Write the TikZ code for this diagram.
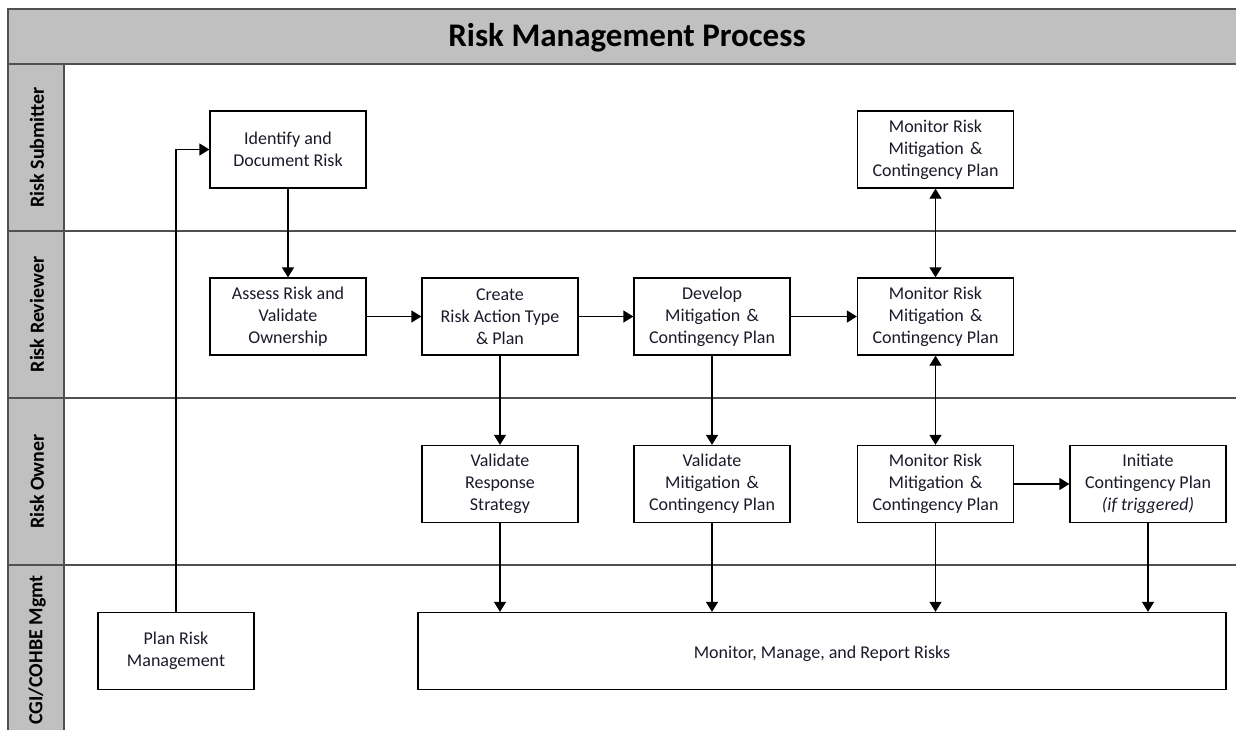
\documentclass[tikz,border=0pt]{standalone}
\usepackage{fontspec}
\setmainfont{Carlito}
\usetikzlibrary{arrows.meta}
\definecolor{bandgray}{HTML}{C0C0C0}
\definecolor{edgegray}{HTML}{505050}
\definecolor{txt}{HTML}{1A1A2A}
\begin{document}
\begin{tikzpicture}[x=1pt,y=-1pt,
 box/.style={draw=black,line width=1.3pt,fill=white,minimum width=156pt,minimum height=77pt,align=center,font=\fontsize{18}{22}\selectfont,text=txt,inner sep=0pt,execute at begin node={\rule{0pt}{18.5pt}}},
 arr/.style={line width=1.3pt,-{Triangle[length=10pt,width=12pt]}},
 darr/.style={line width=1.3pt,{Triangle[length=10pt,width=12pt]}-{Triangle[length=10pt,width=12pt]}},
 lanelabel/.style={font=\bfseries\fontsize{20}{24}\selectfont,rotate=90,inner sep=0pt},
 frame/.style={draw=edgegray,line width=1.6pt}]
\useasboundingbox (0,0) rectangle (1236,729);
\fill[white] (0,0) rectangle (1236,729);
\fill[bandgray] (8,9) rectangle (1240,64);
\fill[bandgray] (8,64) rectangle (64,733);
\draw[frame] (1240,9) -- (8,9) -- (8,733);
\draw[frame] (8,64) -- (1240,64);
\draw[frame] (64,64) -- (64,733);
\draw[frame] (8,231) -- (1240,231);
\draw[frame] (8,398) -- (1240,398);
\draw[frame] (8,565) -- (1240,565);
\node[font=\bfseries\fontsize{33}{38}\selectfont] (title) at (627,38) {Risk Management Process};
\node[lanelabel] (l1) at (37,147.5) {Risk Submitter};
\node[lanelabel] (l2) at (37,314.5) {Risk Reviewer};
\node[lanelabel] (l3) at (37,481.5) {Risk Owner};
\node[lanelabel] (l4) at (37,650) {CGI/COHBE Mgmt};
% boxes
\node[box] (idf) at (288,149.5) {Identify and\\Document Risk};
\node[box] (mtop) at (935.5,149.5) {Monitor Risk\\Mitigation\hspace{0.35em}\&\\Contingency Plan};
\node[box] (ass) at (288,316.5) {Assess Risk and\\Validate\\Ownership};
\node[box] (cre) at (500,316.5) {Create\\Risk Action Type\\\& Plan};
\node[box] (dev) at (712,316.5) {Develop\\Mitigation\hspace{0.35em}\&\\Contingency Plan};
\node[box] (mmid) at (935.5,316.5) {Monitor Risk\\Mitigation\hspace{0.35em}\&\\Contingency Plan};
\node[box] (vr) at (500,484) {Validate\\Response\\Strategy};
\node[box] (vm) at (712,484) {Validate\\Mitigation\hspace{0.35em}\&\\Contingency Plan};
\node[box] (mlow) at (935.5,484) {Monitor Risk\\Mitigation\hspace{0.35em}\&\\Contingency Plan};
\node[box] (ini) at (1148,484) {Initiate\\Contingency Plan\\\textit{(if triggered)}};
\node[box] (plan) at (176,651) {Plan Risk\\Management};
\node[box,minimum width=808pt] (mon) at (822,651) {Monitor, Manage, and Report Risks};
% connectors
\draw[arr] (plan.north) |- (idf.west);
\draw[arr] (idf.south) -- (ass.north);
\draw[arr] (ass.east) -- (cre.west);
\draw[arr] (cre.east) -- (dev.west);
\draw[arr] (dev.east) -- (mmid.west);
\draw[darr] (mtop.south) -- (mmid.north);
\draw[darr] (mmid.south) -- (mlow.north);
\draw[arr] (cre.south) -- (vr.north);
\draw[arr] (dev.south) -- (vm.north);
\draw[arr] (mlow.east) -- (ini.west);
\draw[arr] (vr.south) -- (vr.south |- mon.north);
\draw[arr] (vm.south) -- (vm.south |- mon.north);
\draw[arr] (mlow.south) -- (mlow.south |- mon.north);
\draw[arr] (ini.south) -- (ini.south |- mon.north);
\end{tikzpicture}
\end{document}
